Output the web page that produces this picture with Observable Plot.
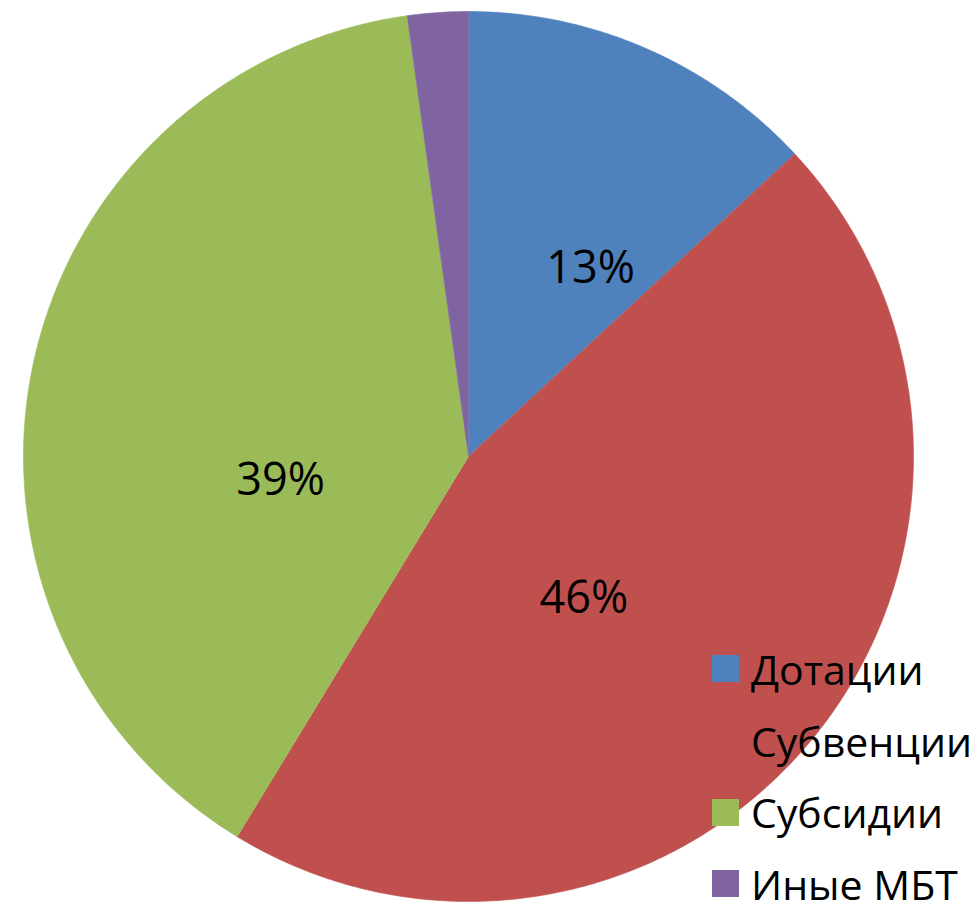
<!DOCTYPE html>
<html>
<head>
<meta charset="utf-8">
<script src="https://cdn.jsdelivr.net/npm/d3@7"></script>
<script src="https://cdn.jsdelivr.net/npm/@observablehq/plot@0.6"></script>
<style>
  html, body { margin: 0; padding: 0; background: #fff; }
  #wrap { position: relative; width: 977px; height: 912px; overflow: hidden; font-family: "Open Sans", sans-serif; }
  #legend { position: absolute; left: 712px; top: 633px; font-size: 41px; color: #000; }
  .row { display: flex; align-items: center; height: 71.7px; white-space: nowrap; }
  .sw { width: 27px; height: 27px; margin-right: 12px; flex: none; }
  .tx { display: inline-block; line-height: 34px; height: 34px; }
</style>
</head>
<body>
<div id="wrap"><div id="legend"></div></div>
<script>
const categories = ["Дотации", "Субвенции", "Субсидии", "Иные МБТ"];
const values = [13.1, 45.6, 39.1, 2.2];
const labels = ["13%", "46%", "39%", ""];
const colors = ["#4F81BD", "#C0504D", "#9BBB59", "#8064A2"];

const W = 977, H = 912, CX = 468, CY = 456, R = 445;

const arcs = d3.pie().sort(null).value(d => d.value)(
  categories.map((name, i) => ({name, value: values[i], label: labels[i]}))
);

// polygon points for each slice (unit radius, y up)
const pts = [];
arcs.forEach(a => {
  pts.push({name: a.data.name, x: 0, y: 0});
  const n = Math.max(2, Math.ceil((a.endAngle - a.startAngle) * 120));
  for (let k = 0; k <= n; k++) {
    const t = a.startAngle + (a.endAngle - a.startAngle) * k / n;
    pts.push({name: a.data.name, x: Math.sin(t), y: Math.cos(t)});
  }
});

const lab = arcs.map(a => {
  const m = (a.startAngle + a.endAngle) / 2;
  return {name: a.data.name, label: a.data.label, x: 0.5 * Math.sin(m), y: 0.5 * Math.cos(m)};
});

const nudge = {"Дотации": [33, 16], "Субвенции": [-57, 1], "Субсидии": [30, 69]};

const chart = Plot.plot({
  width: W, height: H,
  margin: 0,
  style: {background: "transparent", overflow: "visible"},
  x: {domain: [-CX / R, (W - CX) / R], range: [0, W], axis: null},
  y: {domain: [-(H - CY) / R, CY / R], range: [H, 0], axis: null},
  color: {domain: categories, range: colors},
  marks: [
    Plot.line(pts, {x: "x", y: "y", z: "name", fill: "name", stroke: "name", strokeWidth: 0.6, curve: "linear"}),
    ...Object.entries(nudge).map(([name, [dx, dy]]) =>
      Plot.text(lab.filter(d => d.name === name), {
        x: "x", y: "y", text: "label", dx, dy,
        fontSize: 45, fontFamily: "Open Sans", fill: "#000"
      })
    )
  ]
});
chart.style.position = "absolute";
chart.style.left = "0";
chart.style.top = "0";
const wrap = document.getElementById("wrap");
wrap.insertBefore(chart, wrap.firstChild);

const legend = document.getElementById("legend");
categories.forEach((c, i) => {
  const row = document.createElement("div");
  row.className = "row";
  const sw = document.createElement("div");
  sw.className = "sw";
  sw.style.background = colors[i];
  const tx = document.createElement("span");
  tx.className = "tx";
  tx.textContent = c;
  row.appendChild(sw);
  row.appendChild(tx);
  legend.appendChild(row);
});
</script>
</body>
</html>
